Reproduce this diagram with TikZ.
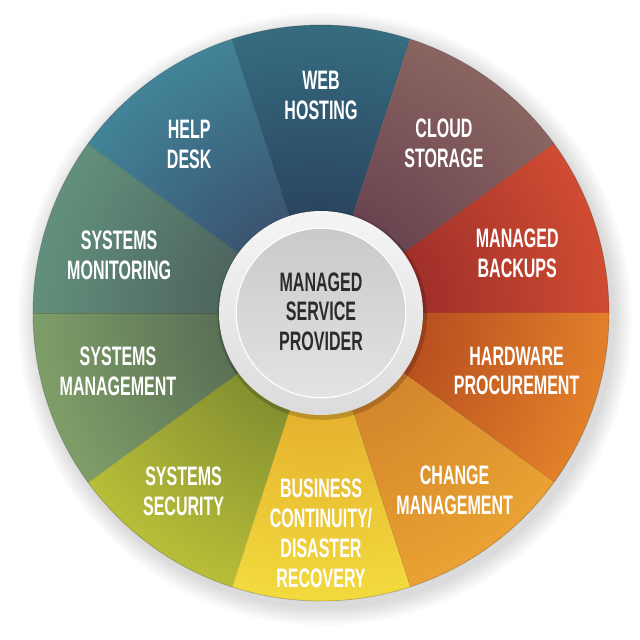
\documentclass[tikz,border=0pt]{standalone}
\usepackage{fontspec}
\newfontfamily\wheelfont{Liberation Sans}[FakeStretch=0.6]
\definecolor{webA}{HTML}{2A4560}\definecolor{webB}{HTML}{366C80}
\definecolor{cloudA}{HTML}{6A4550}\definecolor{cloudB}{HTML}{8A6460}
\definecolor{backA}{HTML}{A0302A}\definecolor{backB}{HTML}{D04C32}
\definecolor{hardA}{HTML}{B8501F}\definecolor{hardB}{HTML}{E2802A}
\definecolor{chgA}{HTML}{D4862C}\definecolor{chgB}{HTML}{E9A232}
\definecolor{bizA}{HTML}{E6B22E}\definecolor{bizB}{HTML}{F2DA3E}
\definecolor{secA}{HTML}{849030}\definecolor{secB}{HTML}{B8BE38}
\definecolor{mgmtA}{HTML}{5A7055}\definecolor{mgmtB}{HTML}{7E9E68}
\definecolor{monA}{HTML}{4E6660}\definecolor{monB}{HTML}{62907C}
\definecolor{helpA}{HTML}{3A5572}\definecolor{helpB}{HTML}{428498}
\definecolor{hubtext}{HTML}{2B2B2B}
\pgfdeclareradialshading[segin,segout]{segshade}{\pgfpoint{0bp}{0bp}}{color(0bp)=(segin); color(9bp)=(segin); color(25bp)=(segout); color(50bp)=(segout)}
\tikzset{
  seglabel/.style={text=white, align=center, inner sep=0pt, font=\wheelfont\bfseries\fontsize{19}{21.3}\selectfont},
  hublabel/.style={text=hubtext, align=center, inner sep=0pt, font=\wheelfont\bfseries\fontsize{19}{21.3}\selectfont}
}
\begin{document}
\begin{tikzpicture}
    \useasboundingbox (-8.025,-8.175) rectangle (7.975,7.825);
    \fill[white] (-8.025,-8.175) rectangle (7.975,7.825);

    % soft shadow round the wheel
    \foreach \s in {1,...,12}
        \fill[black, opacity=0.012] (0.1,-0.15) circle (7.2+0.04*\s);

    % segments
    \foreach \a/\ci/\co in {72/webA/webB, 36/cloudA/cloudB, 0/backA/backB,
        -36/hardA/hardB, -72/chgA/chgB, -108/bizA/bizB, -144/secA/secB,
        180/mgmtA/mgmtB, 144/monA/monB, 108/helpA/helpB}
    {
        \colorlet{segin}{\ci}
        \colorlet{segout}{\co}
        \begin{scope}
            \clip (0,0) -- (\a:7.2) arc[start angle=\a, end angle=\a+36, radius=7.2] -- cycle;
            \shade[shading=segshade] (0,0) circle (7.2);
        \end{scope}
        \draw[black, opacity=0.18, line width=0.6pt] (\a:2.5) -- (\a:7.2);
    }
    \draw[black, opacity=0.2, line width=0.6pt] (0,0) circle (7.2);

    % hub
    \fill[black, opacity=0.18] (0.03,-0.05) circle (2.62);
    \shade[top color=gray!8, bottom color=gray!28] (0,0) circle (2.55);
    \shade[top color=gray!42, bottom color=gray!22] (0,0) circle (2.12);
    \draw[white, line width=0.8pt] (0,0) circle (2.12);

    \node[hublabel] (msp) at (0,0.03) {MANAGED\\SERVICE\\PROVIDER};

    \node[seglabel] (web) at (90:5.43) {WEB\\HOSTING};
    \node[seglabel] (cloud) at (54:5.23) {CLOUD\\STORAGE};
    \node[seglabel] (backups) at (17:5.13) {MANAGED\\BACKUPS};
    \node[seglabel] (hardware) at (-16.5:5.1) {HARDWARE\\PROCUREMENT};
    \node[seglabel] (change) at (-53:5.55) {CHANGE\\MANAGEMENT};
    \node[seglabel] (business) at (-90:5.5) {BUSINESS\\CONTINUITY/\\DISASTER\\RECOVERY};
    \node[seglabel] (security) at (-127.6:5.63) {SYSTEMS\\SECURITY};
    \node[seglabel] (management) at (-164:5.28) {SYSTEMS\\MANAGEMENT};
    \node[seglabel] (monitoring) at (164:5.25) {SYSTEMS\\MONITORING};
    \node[seglabel] (help) at (128:5.35) {HELP\\DESK};
\end{tikzpicture}
\end{document}
